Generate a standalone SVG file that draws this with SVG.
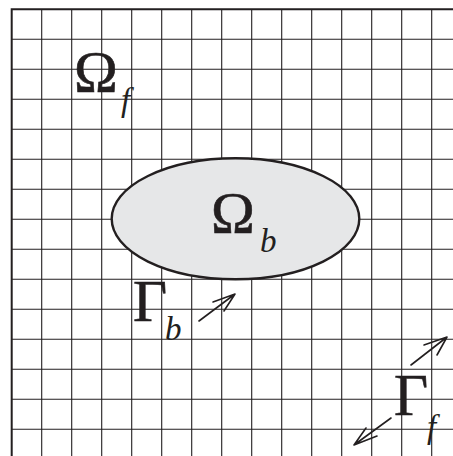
<svg xmlns="http://www.w3.org/2000/svg" width="453" height="456" viewBox="0 0 453 456">
<style>
.grid line{stroke:#231f20;stroke-width:1.1}
.border{stroke:#231f20;stroke-width:2;fill:none}
.sym{font-family:"Liberation Serif","Times New Roman",serif;font-size:59px;fill:#231f20;stroke:#231f20;stroke-width:0.6}
.sub{font-family:"Liberation Serif","Times New Roman",serif;font-style:italic;font-size:33px;fill:#231f20}
.arrow{stroke:#231f20;stroke-width:1.6;fill:none;stroke-linecap:round;stroke-linejoin:round}
</style>
<rect width="453" height="456" fill="#ffffff"/>
<g class="grid">
<line x1="41.7" y1="9.3" x2="41.7" y2="456"/>
<line x1="71.7" y1="9.3" x2="71.7" y2="456"/>
<line x1="101.7" y1="9.3" x2="101.7" y2="456"/>
<line x1="131.7" y1="9.3" x2="131.7" y2="456"/>
<line x1="161.7" y1="9.3" x2="161.7" y2="456"/>
<line x1="191.7" y1="9.3" x2="191.7" y2="456"/>
<line x1="221.7" y1="9.3" x2="221.7" y2="456"/>
<line x1="251.7" y1="9.3" x2="251.7" y2="456"/>
<line x1="281.7" y1="9.3" x2="281.7" y2="456"/>
<line x1="311.7" y1="9.3" x2="311.7" y2="456"/>
<line x1="341.7" y1="9.3" x2="341.7" y2="456"/>
<line x1="371.7" y1="9.3" x2="371.7" y2="456"/>
<line x1="401.7" y1="9.3" x2="401.7" y2="456"/>
<line x1="431.7" y1="9.3" x2="431.7" y2="456"/>
<line x1="11.7" y1="39.3" x2="453" y2="39.3"/>
<line x1="11.7" y1="69.3" x2="453" y2="69.3"/>
<line x1="11.7" y1="99.3" x2="453" y2="99.3"/>
<line x1="11.7" y1="129.3" x2="453" y2="129.3"/>
<line x1="11.7" y1="159.3" x2="453" y2="159.3"/>
<line x1="11.7" y1="189.3" x2="453" y2="189.3"/>
<line x1="11.7" y1="219.3" x2="453" y2="219.3"/>
<line x1="11.7" y1="249.3" x2="453" y2="249.3"/>
<line x1="11.7" y1="279.3" x2="453" y2="279.3"/>
<line x1="11.7" y1="309.3" x2="453" y2="309.3"/>
<line x1="11.7" y1="339.3" x2="453" y2="339.3"/>
<line x1="11.7" y1="369.3" x2="453" y2="369.3"/>
<line x1="11.7" y1="399.3" x2="453" y2="399.3"/>
<line x1="11.7" y1="429.3" x2="453" y2="429.3"/>
</g>
<path class="border" d="M11.7,456 V9.3 H453"/>
<g id="omega_f">
<text class="sym" x="74" y="92">Ω</text>
<text class="sub" x="121" y="111">f</text>
</g>
<g id="omega_b">
<ellipse cx="235.5" cy="218.8" rx="123.8" ry="60.5" fill="#e6e7e8" stroke="#231f20" stroke-width="2.4"/>
<text class="sym" x="211" y="233">Ω</text>
<text class="sub" x="260" y="252">b</text>
</g>
<g id="gamma_b">
<text class="sym" x="133" y="321">Γ</text>
<text class="sub" x="165" y="340">b</text>
</g>
<g id="gamma_f">
<text class="sym" x="394" y="415">Γ</text>
<text class="sub" x="427" y="438">f</text>
</g>
<g id="connectors">
<path class="arrow" d="M199,321 L235,294 M213,302 L235,294 L224,311"/>
<path class="arrow" d="M411,365 L447,337 M424,345 L447,337 L437,355"/>
<path class="arrow" d="M391,418 L354,445 M366,428 L354,445 L377,436"/>
</g>
</svg>
